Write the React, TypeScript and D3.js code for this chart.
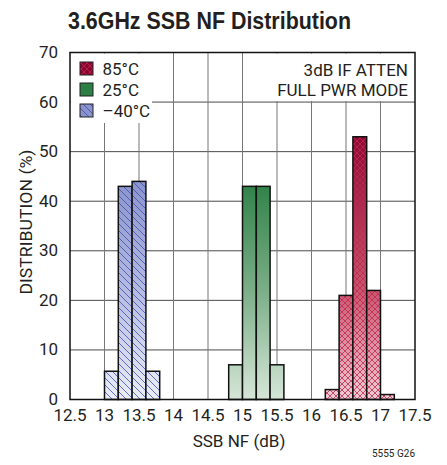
import React from "react";
import * as d3 from "d3";

const xTicks = [12.5, 13, 13.5, 14, 14.5, 15, 15.5, 16, 16.5, 17, 17.5];
const xTickLabels = ["12.5", "13", "13.5", "14", "14.5", "15", "15.5", "16", "16.5", "17", "17.5"];
const yTicks = [0, 10, 20, 30, 40, 50, 60, 70];

const blueEdges = [13.0, 13.2, 13.4, 13.6, 13.8];
const blueValues = [5.7, 43, 44, 5.7];
const greenEdges = [14.8, 15.0, 15.2, 15.4, 15.6];
const greenValues = [7, 43, 43, 7];
const redEdges = [16.2, 16.4, 16.6, 16.8, 17.0, 17.2];
const redValues = [2, 21, 53, 22, 1];

const legendLabels = ["85°C", "25°C", "–40°C"];
const title = "3.6GHz SSB NF Distribution";
const note1 = "3dB IF ATTEN";
const note2 = "FULL PWR MODE";
const xTitle = "SSB NF (dB)";
const yTitle = "DISTRIBUTION (%)";
const code = "5555 G26";

const NARROW = "'Liberation Sans Narrow', 'Arial Narrow', sans-serif";
const FONT = "Roboto, 'Liberation Sans', sans-serif";

export default function App() {
  const W = 447, H = 465;
  const L = 70, R = 415, T = 52.5, B = 399.5;
  const x = d3.scaleLinear().domain([12.5, 17.5]).range([L, R]);
  const y = d3.scaleLinear().domain([0, 70]).range([B, T]);

  const series = [
    { key: "red", edges: redEdges, values: redValues, grad: "gRed", pat: "pRed" },
    { key: "green", edges: greenEdges, values: greenValues, grad: "gGreen", pat: null },
    { key: "blue", edges: blueEdges, values: blueValues, grad: "gBlue", pat: "pBlue" },
  ];

  const txt = "#231f20";

  return (
    <svg width={W} height={H} style={{ position: "absolute", left: 0, top: 0, background: "#fff" }} fontFamily={FONT}>
      <defs>
        <linearGradient id="gRed" gradientUnits="userSpaceOnUse" x1="0" y1={y(55)} x2="0" y2={y(0)}>
          <stop offset="0" stopColor="#8a0530" />
          <stop offset="0.6" stopColor="#c9566f" />
          <stop offset="1" stopColor="#f2cfd6" />
        </linearGradient>
        <linearGradient id="gGreen" gradientUnits="userSpaceOnUse" x1="0" y1={y(45)} x2="0" y2={y(0)}>
          <stop offset="0" stopColor="#2c7f45" />
          <stop offset="0.5" stopColor="#79ad86" />
          <stop offset="1" stopColor="#d6e6d8" />
        </linearGradient>
        <linearGradient id="gBlue" gradientUnits="userSpaceOnUse" x1="0" y1={y(45)} x2="0" y2={y(0)}>
          <stop offset="0" stopColor="#8a93cc" />
          <stop offset="0.5" stopColor="#b4bae0" />
          <stop offset="1" stopColor="#eceefa" />
        </linearGradient>
        <pattern id="pBlue" patternUnits="userSpaceOnUse" width="7" height="7">
          <line x1="0" y1="0" x2="7" y2="7" stroke="#3b4fb8" strokeWidth="0.8" />
        </pattern>
        <pattern id="pRed" patternUnits="userSpaceOnUse" width="6" height="6">
          <line x1="0" y1="0" x2="6" y2="6" stroke="#c2264f" strokeWidth="0.8" />
          <line x1="6" y1="0" x2="0" y2="6" stroke="#c2264f" strokeWidth="0.8" />
        </pattern>
      </defs>

      <text x={68} y={29.3} fontSize={24} fontWeight="bold" fontFamily={NARROW} fill={txt}
        textLength={283} lengthAdjust="spacingAndGlyphs">{title}</text>

      {/* gridlines */}
      {yTicks.slice(1, -1).map((t) => (
        <line key={"hy" + t} x1={L} x2={R} y1={y(t)} y2={y(t)} stroke="#4a4a4a" strokeWidth={1} />
      ))}
      {xTicks.slice(1, -1).map((t) => (
        <line key={"vx" + t} x1={x(t)} x2={x(t)} y1={T} y2={B} stroke="#777" strokeWidth={1} />
      ))}

      {/* legend & note backgrounds */}
      <rect x={L + 1} y={T + 1} width={152 - L - 1} height={123 - T - 1} fill="#fff" />
      <rect x={258} y={T + 1} width={R - 258 - 1} height={101 - T - 1} fill="#fff" />

      {/* bars */}
      {series.map((s) =>
        s.values.map((v, i) => {
          const x0 = x(s.edges[i]);
          const x1 = x(s.edges[i + 1]);
          const yt = y(v);
          return (
            <g key={s.key + i}>
              <rect x={x0} y={yt} width={x1 - x0} height={B - yt} fill={`url(#${s.grad})`} />
              {s.pat && <rect x={x0} y={yt} width={x1 - x0} height={B - yt} fill={`url(#${s.pat})`} />}
              <rect x={x0} y={yt} width={x1 - x0} height={B - yt} fill="none" stroke="#111" strokeWidth={1.5} />
            </g>
          );
        })
      )}

      {/* border */}
      <rect x={L} y={T} width={R - L} height={B - T} fill="none" stroke="#111" strokeWidth={1.5} />

      {/* legend */}
      {series.map((s, i) => {
        const sy = 62 + i * 21;
        return (
          <g key={"lg" + i}>
            <rect x={80} y={sy} width={13} height={13} fill={`url(#${s.grad})`} />
            {s.pat && <rect x={80} y={sy} width={13} height={13} fill={`url(#${s.pat})`} />}
            <rect x={80} y={sy} width={13} height={13} fill="none" stroke="#222" strokeWidth={1} />
            <text x={102.5} y={sy + 13} fontSize={17} fill={txt}>{legendLabels[i]}</text>
          </g>
        );
      })}

      <text x={408} y={76} fontSize={17} textAnchor="end" fill={txt}>{note1}</text>
      <text x={408} y={96} fontSize={17} textAnchor="end" fill={txt}>{note2}</text>

      {/* axes labels */}
      {yTicks.map((t) => (
        <text key={"yl" + t} x={58} y={y(t) + 5.5} fontSize={17} textAnchor="end" fill={txt}>{t}</text>
      ))}
      {xTicks.map((t, i) => (
        <text key={"xl" + t} x={x(t)} y={421} fontSize={17} textAnchor="middle" fill={txt}>{xTickLabels[i]}</text>
      ))}
      <text x={239} y={447} fontSize={17} textAnchor="middle" fill={txt}>{xTitle}</text>
      <text transform={`translate(32, 222) rotate(-90)`} fontSize={17} textAnchor="middle" fill={txt}
        textLength={145} lengthAdjust="spacingAndGlyphs">{yTitle}</text>
      <text x={415} y={457} fontSize={10} textAnchor="end" fill={txt}>{code}</text>
    </svg>
  );
}
